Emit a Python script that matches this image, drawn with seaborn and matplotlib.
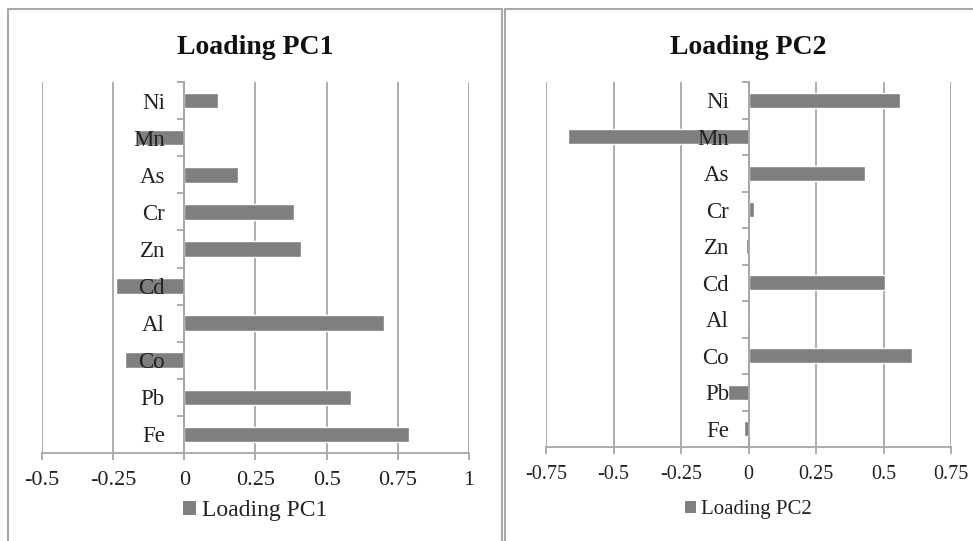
import matplotlib
matplotlib.use("Agg")
import matplotlib.pyplot as plt
import seaborn as sns
import pandas as pd
from matplotlib.patches import Patch
from matplotlib.lines import Line2D

elements = ["Ni", "Mn", "As", "Cr", "Zn", "Cd", "Al", "Co", "Pb", "Fe"]
pc1 = [0.12, -0.17, 0.19, 0.385, 0.41, -0.24, 0.70, -0.21, 0.585, 0.79]
pc2 = [0.56, -0.67, 0.43, 0.02, -0.01, 0.505, 0.003, 0.607, -0.075, -0.016]
pc1_ticks = [-0.5, -0.25, 0, 0.25, 0.5, 0.75, 1]
pc1_ticklabels = ["-0.5", "-0.25", "0", "0.25", "0.5", "0.75", "1"]
pc2_ticks = [-0.75, -0.5, -0.25, 0, 0.25, 0.5, 0.75]
pc2_ticklabels = ["-0.75", "-0.5", "-0.25", "0", "0.25", "0.5", "0.75"]
titles = ["Loading PC1", "Loading PC2"]

sns.set_theme(style="white")
plt.rcParams["font.family"] = ["Liberation Serif", "DejaVu Serif"]

W, H = 973, 541
fig = plt.figure(figsize=(W / 100, H / 100), dpi=100)

BAR = "#7f7f7f"
GRID = "#a6a6a6"


def px_axes(l, t, r, b):
    return fig.add_axes([l / W, 1 - b / H, (r - l) / W, (b - t) / H])


def draw(ax, values, ticks, ticklabels, title, fs, yfs, leg_fs, leg_y):
    df = pd.DataFrame({"element": elements, "value": values})
    sns.barplot(data=df, x="value", y="element", order=elements, orient="h",
                color=BAR, saturation=1, width=0.42, ax=ax, zorder=3)
    ax.set_xlim(ticks[0], ticks[-1])
    ax.set_ylim(len(elements) - 0.5, -0.5)
    ax.set_xticks(ticks)
    ax.set_xticklabels(ticklabels, fontsize=fs)
    ax.set_xlabel("")
    ax.set_ylabel("")
    ax.grid(axis="x", color=GRID, linewidth=1.3, zorder=0)
    ax.grid(axis="y", visible=False)
    for s in ["top", "right"]:
        ax.spines[s].set_visible(False)
    ax.spines["left"].set_position(("data", 0))
    ax.spines["left"].set_color(GRID)
    ax.spines["left"].set_linewidth(1.3)
    ax.spines["left"].set_zorder(4)
    ax.spines["bottom"].set_color(GRID)
    ax.spines["bottom"].set_linewidth(1.3)
    ax.tick_params(axis="x", which="major", length=5, width=1.3, color=GRID,
                   direction="out", pad=8, labelcolor="#222222", bottom=True)
    ax.set_yticks(range(len(elements)))
    ax.set_yticklabels(elements, fontsize=yfs)
    ax.set_yticks([i - 0.5 for i in range(len(elements) + 1)], minor=True)
    ax.tick_params(axis="y", which="major", length=0, pad=14, labelcolor="#222222")
    ax.tick_params(axis="y", which="minor", length=5, width=1.3, color=GRID,
                   direction="out", left=True)
    ax.yaxis.set_zorder(5)
    ax.set_title(title, fontsize=20, fontweight="bold", pad=20, color="#111111")
    ax.legend(handles=[Patch(facecolor=BAR, edgecolor="none", label=title)],
              loc="center", bbox_to_anchor=(0.5, leg_y), frameon=False,
              fontsize=leg_fs, handlelength=0.55, handleheight=0.55, handletextpad=0.25,
              labelcolor="#222222")


ax1 = px_axes(42, 82, 469, 453)
draw(ax1, pc1, pc1_ticks, pc1_ticklabels, titles[0], 16, 16.5, 17, -0.155)
ax2 = px_axes(546, 82, 951, 447)
draw(ax2, pc2, pc2_ticks, pc2_ticklabels, titles[1], 14.5, 16.5, 15, -0.172)

# panel frames
def fline(x0, y0, x1, y1):
    fig.add_artist(Line2D([x0 / W, x1 / W], [1 - y0 / H, 1 - y1 / H],
                          color="#a8a8a8", linewidth=1.5, transform=fig.transFigure))

fline(8, 9, 502, 9)
fline(8, 9, 8, 541)
fline(502, 9, 502, 541)
fline(505, 9, 973, 9)
fline(505, 9, 505, 541)

fig.savefig("out.png", dpi=100)
